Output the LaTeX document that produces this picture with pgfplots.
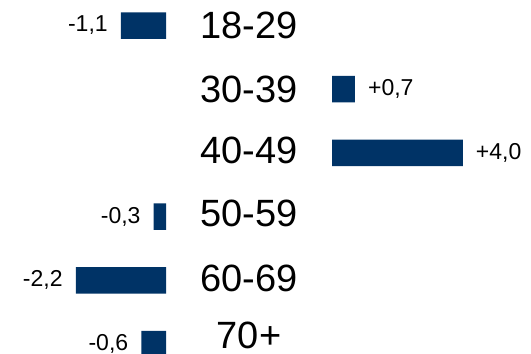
\documentclass[border=0pt]{standalone}
\usepackage{pgfplots}
\pgfplotsset{compat=1.18}
\usepackage{fontspec}
\setmainfont{Liberation Sans}
\definecolor{navy}{RGB}{0,51,102}
\pgfplotstableread{
x y lab
-1.1 0 {-1,1}
-0.3 3 {-0,3}
-2.2 4 {-2,2}
-0.6 5 {-0,6}
}\leftdata
\pgfplotstableread{
x y lab
0.7 1 {+0,7}
4.0 2 {+4,0}
}\rightdata
\begin{document}
\begin{tikzpicture}
\path[use as bounding box] (0bp,-354bp) rectangle (531bp,0bp);
\pgfplotsset{
  common/.style={
    scale only axis, hide axis, xbar, height=354bp,
    ymin=-0.4003, ymax=5.157, y dir=reverse, bar width=0.416,
    nodes near coords, point meta=explicit symbolic,
  }
}
\begin{axis}[common, at={(0bp,0bp)}, anchor=north west, width=166bp,
  xmin=-4.049, xmax=0,
  every node near coord/.append style={font=\fontsize{23bp}{23bp}\selectfont, anchor=east, inner sep=0pt, xshift=-13bp, text=black}]
\addplot[fill=navy, draw=none] table[x=x, y=y, meta=lab] {\leftdata};
\end{axis}
\begin{axis}[common, at={(332bp,0bp)}, anchor=north west, width=199bp,
  xmin=0, xmax=6.086,
  every node near coord/.append style={font=\fontsize{23bp}{23bp}\selectfont, anchor=west, inner sep=0pt, xshift=13bp, text=black}]
\addplot[fill=navy, draw=none] table[x=x, y=y, meta=lab] {\rightdata};
\end{axis}
\foreach \lab/\yy in {18-29/25.5,30-39/89.2,40-49/150,50-59/213,60-69/278,70+/335}{
  \node[font=\fontsize{38bp}{38bp}\selectfont, inner sep=0pt, anchor=center] at (249bp,-\yy bp) {\lab};
}
\end{tikzpicture}
\end{document}
